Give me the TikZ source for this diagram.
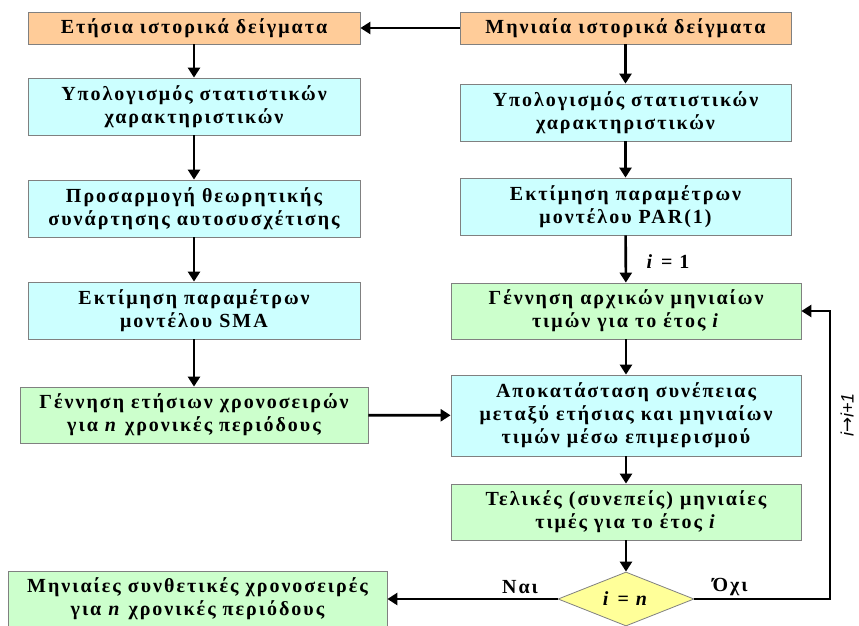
\documentclass[tikz,border=0pt]{standalone}
\usepackage{fontspec}
\setmainfont{Liberation Serif}[LetterSpace=10]
\setsansfont{Liberation Sans}
\newfontfamily\arrowfont{DejaVu Sans}
\usetikzlibrary{shapes.geometric,arrows.meta}
\definecolor{orangebox}{HTML}{FFCC99}
\definecolor{cyanbox}{HTML}{CCFFFF}
\definecolor{greenbox}{HTML}{CCFFCC}
\definecolor{yellowbox}{HTML}{FFFF99}
\begin{document}
\begin{tikzpicture}[x=1pt, y=-1pt, line width=2.6pt, >={Triangle[length=10pt,width=12pt]},
  box/.style={rectangle, draw=gray, line width=0.8pt, align=center, inner sep=0pt,
    font=\fontsize{20}{23}\selectfont\bfseries},
  data node/.style={box, fill=orangebox, minimum width=332pt, minimum height=32pt},
  calc node/.style={box, fill=cyanbox, minimum height=57pt},
  gen node/.style={box, fill=greenbox, minimum height=56pt},
  test node/.style={diamond, aspect=2.5, draw=gray, line width=0.8pt, fill=yellowbox, inner sep=0pt,
    minimum width=136pt, minimum height=54pt, font=\fontsize{20}{22}\selectfont\bfseries},
  lbl/.style={font=\fontsize{20}{22}\selectfont\bfseries}]
\useasboundingbox (0,0) rectangle (859,626);
\clip (0,0) rectangle (859,626);
% annual branch
\node[data node] (yhist) at (194,28) {Ετήσια ιστορικά δείγματα};
\node[calc node, minimum width=332pt] (ystat) at (194,106.5) {Υπολογισμός στατιστικών\\χαρακτηριστικών};
\node[calc node, minimum width=332pt] (yacf) at (194,208.5) {Προσαρμογή θεωρητικής\\συνάρτησης αυτοσυσχέτισης};
\node[calc node, minimum width=332pt] (ysma) at (194,310.5) {Εκτίμηση παραμέτρων\\μοντέλου SMA};
\node[gen node, minimum width=348pt] (ygen) at (194,415) {Γέννηση ετήσιων χρονοσειρών\\για \textit{n} χρονικές περιόδους};
% monthly branch
\node[data node, minimum width=331pt] (mhist) at (625.5,28) {Μηνιαία ιστορικά δείγματα};
\node[calc node, minimum width=331pt] (mstat) at (625.5,112.5) {Υπολογισμός στατιστικών\\χαρακτηριστικών};
\node[calc node, minimum width=331pt] (mpar) at (625.5,206.5) {Εκτίμηση παραμέτρων\\μοντέλου PAR(1)};
\node[gen node, minimum width=350pt] (mgen) at (626,311) {Γέννηση αρχικών μηνιαίων\\τιμών για το έτος \textit{i}};
\node[calc node, minimum width=350pt, minimum height=81pt] (disagg) at (626,415.5) {Αποκατάσταση συνέπειας\\μεταξύ ετήσιας και μηνιαίων\\τιμών μέσω επιμερισμού};
\node[gen node, minimum width=350pt] (mfin) at (626,512) {Τελικές (συνεπείς) μηνιαίες\\τιμές για το έτος \textit{i}};
\node[test node] (test) at (626,599) {\textit{i} = \textit{n}};
\node[gen node, minimum width=379pt] (out) at (197.5,599) {Μηνιαίες συνθετικές χρονοσειρές\\για \textit{n} χρονικές περιόδους};
\coordinate (loop) at (830,599);
% labels
\node[lbl] (ione) at (668,262) {\textit{i} = 1};
\node[lbl] (yes) at (520,587) {Ναι};
\node[lbl] (no) at (730,587) {Όχι};
\node[rotate=90, inner sep=1pt, font=\fontsize{18}{20}\selectfont\sffamily\itshape] (incr) at (847,415) {i{\arrowfont\upshape →}i+1};
% connectors
\draw[->] (mhist) -- (yhist);
\draw[->] (yhist) -- (ystat);
\draw[->] (ystat) -- (yacf);
\draw[->] (yacf) -- (ysma);
\draw[->] (ysma) -- (ygen);
\draw[->] (mhist) -- (mstat);
\draw[->] (mstat) -- (mpar);
\draw[->] (mpar) -- (mgen);
\draw[->] (mgen) -- (disagg);
\draw[->] (disagg) -- (mfin);
\draw[->] (mfin) -- (test);
\draw[->] (ygen) -- (disagg);
\draw[->] (test) -- (out);
\draw[->] (test) -- (loop) |- (mgen);
\end{tikzpicture}
\end{document}
